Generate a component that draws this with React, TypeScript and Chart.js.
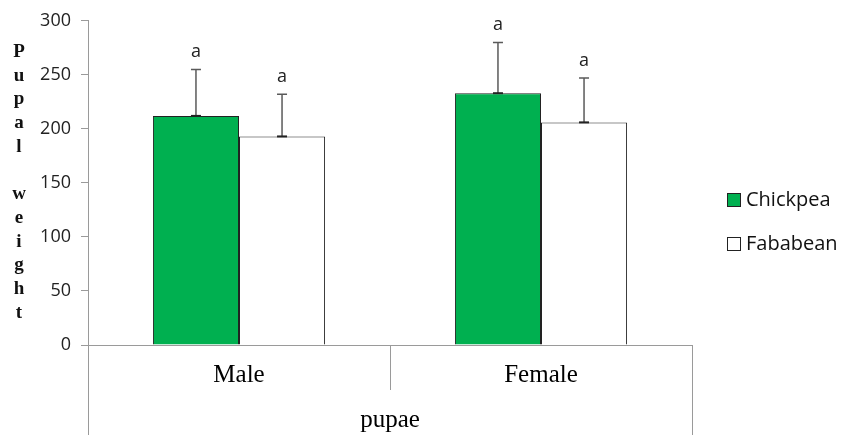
import React, { useEffect, useRef } from 'react';
import { Chart, registerables } from 'chart.js';

Chart.register(...registerables);

const categories = ['Male', 'Female'];
const seriesNames = ['Chickpea', 'Fababean'];
const chickpea = [212, 233];
const fababean = [193, 206];
const chickpeaErr = [43, 47];
const fababeanErr = [39, 41];
const chickpeaSig = ['a', 'a'];
const fababeanSig = ['a', 'a'];
const yMin = 0;
const yMax = 300;
const yStep = 50;
const yTitle = 'Pupal weight';
const xTitle = 'pupae';

const GREEN = '#00B050';
const AXIS = '#9a9a9a';
const SANS = '"Open Sans", Lato, sans-serif';
const SERIF = '"Liberation Serif", "DejaVu Serif", serif';

const errs = [chickpeaErr, fababeanErr];
const sigs = [chickpeaSig, fababeanSig];

const extrasPlugin = {
  id: 'extras',
  afterDatasetsDraw(chart: any) {
    const ctx = chart.ctx;
    const yScale = chart.scales.y;
    ctx.save();
    chart.data.datasets.forEach((ds: any, i: number) => {
      const meta = chart.getDatasetMeta(i);
      meta.data.forEach((el: any, j: number) => {
        const v = ds.data[j];
        const top = yScale.getPixelForValue(v + errs[i][j]);
        const base = el.y;
        ctx.strokeStyle = '#5a5a5a';
        ctx.lineWidth = 1.5;
        ctx.beginPath();
        ctx.moveTo(el.x, base);
        ctx.lineTo(el.x, top);
        ctx.moveTo(el.x - 5, top);
        ctx.lineTo(el.x + 5, top);
        ctx.stroke();
        ctx.strokeStyle = '#222';
        ctx.lineWidth = 2;
        ctx.beginPath();
        ctx.moveTo(el.x - 5, base);
        ctx.lineTo(el.x + 5, base);
        ctx.stroke();
        ctx.fillStyle = '#222';
        ctx.font = `18px ${SANS}`;
        ctx.textAlign = 'center';
        ctx.textBaseline = 'alphabetic';
        ctx.fillText(sigs[i][j], el.x, top - 12);
      });
    });
    ctx.restore();
  },
  afterDraw(chart: any) {
    const ctx = chart.ctx;
    const { left, right, bottom } = chart.chartArea;
    const xScale = chart.scales.x;
    ctx.save();
    // category axis box
    ctx.strokeStyle = AXIS;
    ctx.lineWidth = 1;
    ctx.beginPath();
    ctx.moveTo(left + 0.5, bottom);
    ctx.lineTo(left + 0.5, chart.height);
    ctx.moveTo(right + 0.5, bottom);
    ctx.lineTo(right + 0.5, chart.height);
    for (let k = 0; k < categories.length - 1; k++) {
      const mid = Math.round((xScale.getPixelForValue(k) + xScale.getPixelForValue(k + 1)) / 2) + 0.5;
      ctx.moveTo(mid, bottom);
      ctx.lineTo(mid, bottom + 45);
    }
    ctx.stroke();

    // vertical stacked y title
    ctx.fillStyle = '#111';
    ctx.font = `bold 19px ${SERIF}`;
    ctx.textAlign = 'center';
    ctx.textBaseline = 'middle';
    const chars = yTitle.split('');
    chars.forEach((c, k) => {
      if (c !== ' ') ctx.fillText(c, 19, 52 + k * 23.7);
    });

    // legend
    const legendY = [200, 244];
    chart.data.datasets.forEach((ds: any, i: number) => {
      const cy = legendY[i];
      ctx.fillStyle = ds.backgroundColor;
      ctx.fillRect(727, cy - 7, 14, 14);
      ctx.strokeStyle = '#222';
      ctx.lineWidth = 1;
      ctx.strokeRect(727.5, cy - 6.5, 13, 13);
      ctx.fillStyle = '#111';
      ctx.font = `20px ${SANS}`;
      ctx.textAlign = 'left';
      ctx.textBaseline = 'middle';
      ctx.fillText(ds.label, 746, cy);
    });
    ctx.restore();
  },
};

export default function App() {
  const ref = useRef<HTMLCanvasElement | null>(null);
  useEffect(() => {
    document.body.style.margin = '0';
    const canvas = ref.current;
    if (!canvas) return;
    const chart = new Chart(canvas, {
      type: 'bar',
      data: {
        labels: categories,
        datasets: [
          {
            label: seriesNames[0],
            data: chickpea,
            backgroundColor: GREEN,
            borderColor: '#222',
            borderWidth: 1,
            categoryPercentage: 0.57,
            barPercentage: 1,
          },
          {
            label: seriesNames[1],
            data: fababean,
            backgroundColor: '#ffffff',
            borderColor: '#222',
            borderWidth: 1,
            categoryPercentage: 0.57,
            barPercentage: 1,
          },
        ],
      },
      options: {
        responsive: false,
        animation: false,
        devicePixelRatio: 1,
        layout: { padding: { top: 20, right: 154, left: 0, bottom: 0 } },
        plugins: {
          legend: { display: false },
          tooltip: { enabled: false },
        },
        scales: {
          x: {
            grid: { display: false, drawTicks: false },
            border: { color: AXIS, width: 1 },
            ticks: {
              color: '#000',
              font: { family: SERIF, size: 25 },
              padding: 15,
            },
            title: {
              display: true,
              text: xTitle,
              color: '#000',
              font: { family: SERIF, size: 25 },
              padding: { top: 0, bottom: 0 },
            },
            afterFit: (scale: any) => {
              scale.height = 90;
            },
          },
          y: {
            min: yMin,
            max: yMax,
            ticks: {
              stepSize: yStep,
              color: '#222',
              font: { family: SANS, size: 18 },
              padding: 10,
            },
            grid: {
              drawOnChartArea: false,
              drawTicks: true,
              tickLength: 7,
              color: AXIS,
            },
            border: { color: AXIS, width: 1 },
            afterFit: (scale: any) => {
              scale.width = 88;
            },
          },
        },
      },
      plugins: [extrasPlugin],
    });
    return () => chart.destroy();
  }, []);
  return (
    <div style={{ width: 846, height: 435, position: 'relative' }}>
      <canvas ref={ref} width={846} height={435} />
    </div>
  );
}
